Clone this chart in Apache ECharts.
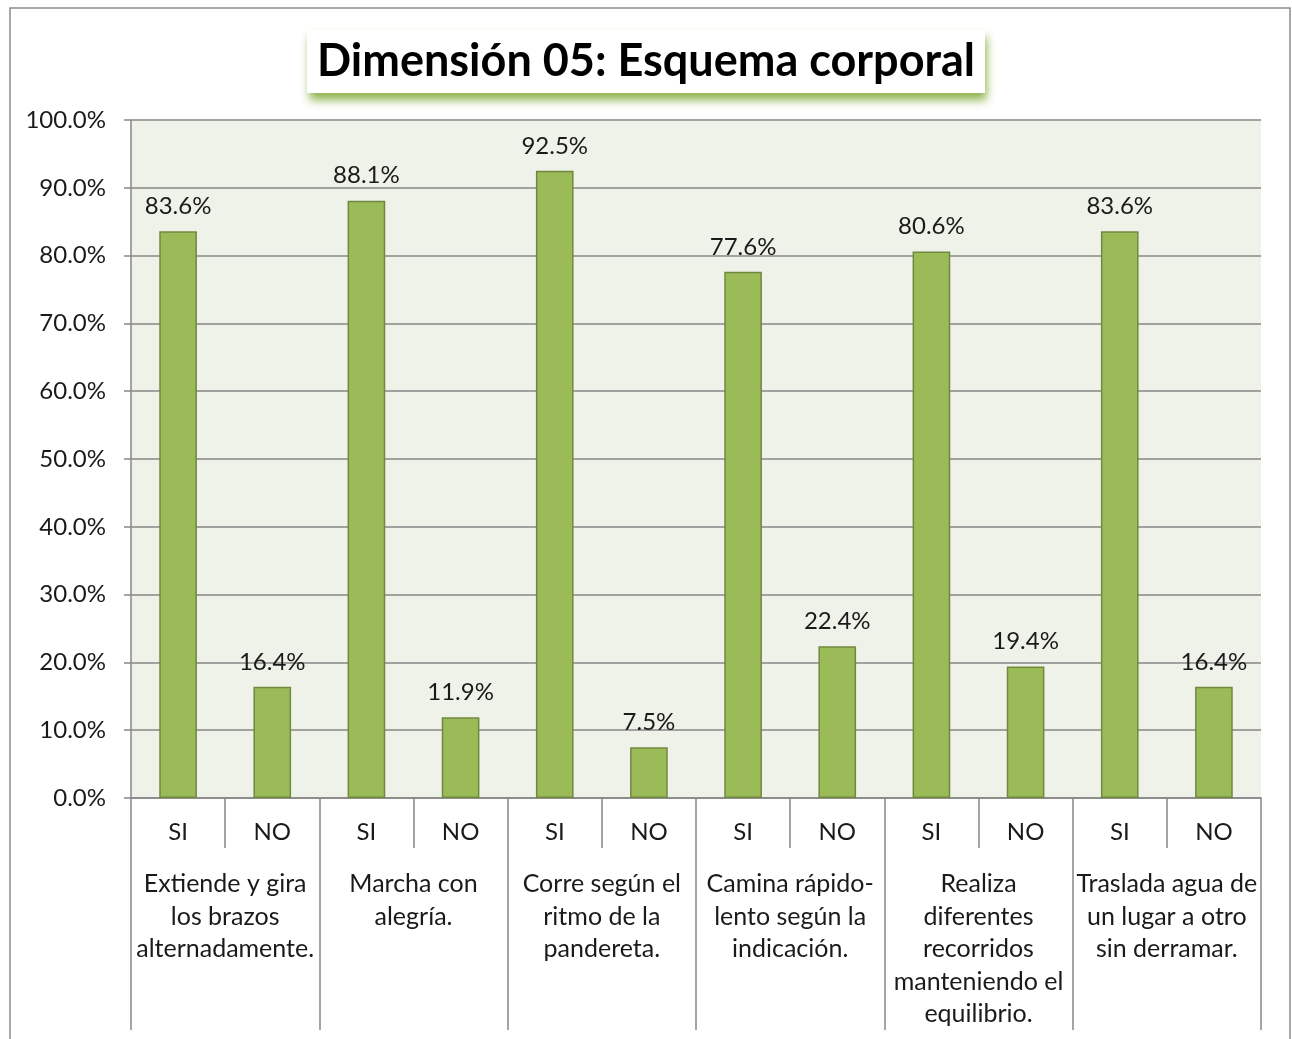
<!DOCTYPE html>
<html>
<head>
<meta charset="utf-8">
<script src="https://cdn.jsdelivr.net/npm/echarts@6/dist/echarts.min.js"></script>
<style>
  html, body { margin: 0; padding: 0; background: #fff; }
  #chart-container { width: 1292px; height: 1039px; }
</style>
</head>
<body>
<div id="chart-container"></div>
<script>
var answers = ['SI', 'NO', 'SI', 'NO', 'SI', 'NO', 'SI', 'NO', 'SI', 'NO', 'SI', 'NO'];
var items = [
  'Extiende y gira\nlos brazos\nalternadamente.',
  'Marcha con\nalegría.',
  'Corre según el\nritmo de la\npandereta.',
  'Camina rápido-\nlento según la\nindicación.',
  'Realiza\ndiferentes\nrecorridos\nmanteniendo el\nequilibrio.',
  'Traslada agua de\nun lugar a otro\nsin derramar.'
];
var percents = [83.6, 16.4, 88.1, 11.9, 92.5, 7.5, 77.6, 22.4, 80.6, 19.4, 83.6, 16.4];
var yTicks = { min: 0, max: 100, interval: 10 };

var FONT = 'Lato';
var GRAY = '#878787';

var dom = document.getElementById('chart-container');
var myChart = echarts.init(dom, null, { renderer: 'canvas' });

var option = {
  animation: false,
  textStyle: { fontFamily: FONT, color: '#1a1a1a' },
  graphic: [{
    type: 'rect',
    z: -10,
    shape: { x: 10, y: 8, width: 1280, height: 1040 },
    style: { fill: 'none', stroke: '#8c8c8c', lineWidth: 1.5 }
  }],
  title: {
    text: 'Dimensión 05: Esquema corporal',
    left: 'center',
    top: 30,
    padding: [9, 10, 9, 10],
    backgroundColor: '#fff',
    shadowColor: 'rgba(135, 175, 65, 0.95)',
    shadowBlur: 9,
    shadowOffsetX: 2,
    shadowOffsetY: 7,
    textStyle: { fontFamily: FONT, fontSize: 45, fontWeight: 'bold', color: '#000' }
  },
  grid: {
    left: 131, right: 31, top: 120, bottom: 241,
    show: true, backgroundColor: '#EEF2E8', borderWidth: 0
  },
  xAxis: [
    {
      type: 'category',
      data: answers,
      position: 'bottom',
      axisLine: { show: true, lineStyle: { color: GRAY, width: 1.5 } },
      axisTick: { show: true, interval: 0, length: 50, lineStyle: { color: GRAY, width: 1.5 } },
      axisLabel: { interval: 0, margin: 22, fontSize: 24, color: '#1a1a1a', fontFamily: FONT }
    },
    {
      type: 'category',
      data: items,
      position: 'bottom',
      axisLine: { show: false },
      axisTick: { show: true, interval: 0, length: 232, lineStyle: { color: GRAY, width: 1.5 } },
      axisLabel: { interval: 0, margin: 70, fontSize: 25, lineHeight: 32.5, color: '#1a1a1a', fontFamily: FONT, align: 'center' }
    }
  ],
  yAxis: {
    type: 'value',
    min: yTicks.min,
    max: yTicks.max,
    interval: yTicks.interval,
    axisLine: { show: true, lineStyle: { color: GRAY, width: 1.5 } },
    axisTick: { show: true, length: 7, lineStyle: { color: GRAY, width: 1.5 } },
    axisLabel: {
      margin: 25, fontSize: 24, color: '#1a1a1a', fontFamily: FONT,
      formatter: function (v) { return v.toFixed(1) + '%'; }
    },
    splitLine: { show: true, lineStyle: { color: GRAY, width: 1.5 } }
  },
  series: [{
    type: 'bar',
    xAxisIndex: 0,
    data: percents,
    barWidth: '40%',
    itemStyle: { color: '#9BBB59', borderColor: '#71893F', borderWidth: 1.5 },
    label: {
      show: true, position: 'top', distance: 13,
      fontSize: 24, color: '#1a1a1a', fontFamily: FONT,
      formatter: function (p) { return p.value.toFixed(1) + '%'; }
    }
  }]
};

myChart.setOption(option);
window.addEventListener('resize', myChart.resize);
</script>
</body>
</html>
